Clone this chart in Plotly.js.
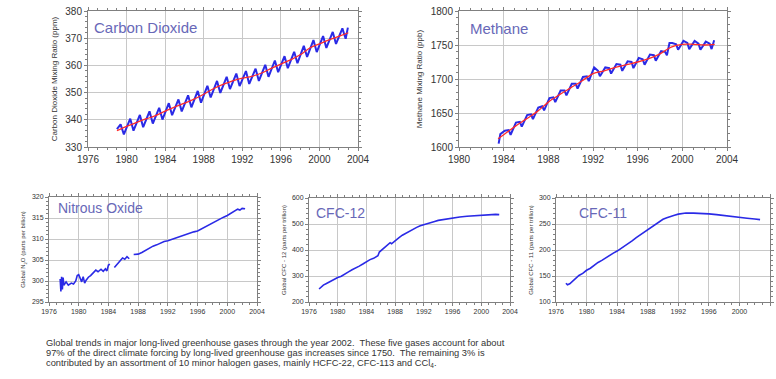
<!DOCTYPE html>
<html>
<head>
<meta charset="utf-8">
<script src="https://cdn.plot.ly/plotly-3.0.1.min.js"></script>
<style>html,body{margin:0;padding:0;background:#fff;}#chart{width:776px;height:379px;}</style>
</head>
<body>
<div id="chart"></div>
<script>
// ---------- Carbon dioxide (ppm) ----------
const co2Years = [1979.0,1979.38,1979.72,1980.38,1980.72,1981.38,1981.72,1982.38,1982.72,1983.38,1983.72,
  1984.38,1984.72,1985.38,1985.72,1986.38,1986.72,1987.38,1987.72,1988.38,1988.72,1989.38,1989.72,
  1990.38,1990.72,1991.38,1991.72,1992.38,1992.72,1993.38,1993.72,1994.38,1994.72,1995.38,1995.72,
  1996.38,1996.72,1997.38,1997.72,1998.38,1998.72,1999.38,1999.72,2000.38,2000.72,2001.38,2001.72,
  2002.38,2002.72,2002.95];
const co2Values = [336.6,338.3,334.6,340.4,336.0,341.8,337.3,343.1,338.6,344.4,340.1,
  346.1,341.7,347.5,343.1,349.0,344.6,350.6,346.3,352.5,348.2,354.3,349.9,
  355.8,351.3,357.0,352.4,357.9,353.2,358.8,354.3,360.2,355.8,361.8,357.5,
  363.4,359.0,365.0,360.8,367.2,363.1,369.3,364.9,370.8,366.4,372.3,367.9,
  373.6,369.8,373.9];
const co2TrendYears = [1979,1980,1981,1982,1983,1984,1985,1986,1987,1988,1989,1990,1991,
  1992,1993,1994,1995,1996,1997,1998,1999,2000,2001,2002,2003];
const co2TrendValues = [336.0,337.6,339.0,340.3,341.5,343.2,344.7,346.1,347.6,349.4,351.4,353.0,354.3,
  355.3,356.0,357.2,358.9,360.5,362.0,363.9,366.4,367.9,369.4,370.7,372.0];

// ---------- Methane (ppb) ----------
const ch4Years = [1983.55,1983.7,1984.1,1984.45,1984.62,1985.1,1985.45,1985.62,1986.1,1986.45,1986.62,
  1987.1,1987.45,1987.62,1988.1,1988.45,1988.62,1989.1,1989.45,1989.62,1990.1,1990.45,1990.62,
  1991.1,1991.45,1991.62,1992.1,1992.45,1992.62,1993.1,1993.45,1993.62,1994.1,1994.45,1994.62,
  1995.1,1995.45,1995.62,1996.1,1996.45,1996.62,1997.1,1997.45,1997.62,1998.1,1998.45,1998.62,
  1998.85,1999.1,1999.45,1999.62,2000.1,2000.45,2000.62,2001.1,2001.45,2001.62,2002.1,2002.45,
  2002.62,2002.85];
const ch4Values = [1605,1619,1624,1625,1618,1636,1637,1630,1647,1648,1641,
  1658,1660,1654,1672,1673,1666,1683,1683,1676,1693,1693,1686,
  1703,1704,1697,1717,1712,1704,1717,1716,1708,1722,1721,1712,
  1726,1725,1716,1731,1729,1721,1736,1735,1727,1741,1740,1735,
  1753,1753,1751,1743,1756,1753,1744,1756,1752,1743,1755,1752,
  1744,1757];
const ch4TrendYears = [1983.5,1984,1985,1986,1987,1988,1989,1990,1991,1992,1993,1994,1995,
  1996,1997,1998,1999,2000,2001,2002,2002.9];
const ch4TrendValues = [1612,1618,1630,1641,1652,1666,1677,1687,1697,1708,1712,1717,1721,
  1725,1730,1737,1747,1751,1751,1750,1751];

// ---------- Nitrous oxide (ppb); null = gap in record ----------
const n2oYears = [1977.5,1977.6,1977.7,1977.8,1977.9,1978.0,1978.3,1978.6,1979.0,1979.3,1979.6,1979.8,
  1980.0,1980.2,1980.4,1980.6,1980.8,1981.0,1981.3,1981.6,1982.0,1982.3,1982.6,1983.0,1983.3,1983.6,
  1983.8,1984.0,1984.2,1984.5,1984.8,1985.2,1985.6,1985.9,1986.2,1986.5,1986.8,1987.1,
  1987.4,1988.0,1988.5,1989.0,1989.5,1990.0,1990.5,1991.0,1991.5,1992.0,1992.5,1993.0,1993.5,
  1994.0,1994.5,1995.0,1995.5,1996.0,1996.5,1997.0,1997.5,1998.0,1998.5,1999.0,1999.5,2000.0,
  2000.5,2001.0,2001.4,2001.7,2002.0,2002.4];
const n2oValues = [300.5,297.5,301.0,298.0,300.8,299.0,299.8,299.0,299.5,299.3,300.0,301.3,
  301.5,300.8,299.8,301.0,299.5,300.2,300.9,301.3,302.0,302.6,302.2,302.8,302.3,302.9,
  302.4,303.8,304.0,null,303.2,304.0,304.8,305.5,305.2,305.8,305.3,null,
  306.3,306.4,306.8,307.3,307.9,308.3,308.6,309.0,309.4,309.6,309.9,310.2,310.6,
  310.9,311.2,311.5,311.7,311.9,312.4,312.8,313.3,313.8,314.3,314.8,315.2,315.6,
  316.2,316.6,317.1,316.9,317.3,317.2];

// ---------- CFC-12 (ppt) ----------
const cfc12Years = [1977.4,1977.7,1978.0,1978.5,1979.0,1979.5,1980.0,1980.5,1981.0,1981.5,1982.0,1982.5,
  1983.0,1983.5,1984.0,1984.5,1985.0,1985.4,1985.6,1985.8,1986.2,1986.6,1987.0,1987.3,1987.5,1988.0,
  1988.5,1989.0,1989.5,1990.0,1990.5,1991.0,1991.5,1992.0,1992.5,1993.0,1993.5,1994.0,1995.0,1996.0,
  1997.0,1998.0,1999.0,2000.0,2001.0,2002.0,2002.5];
const cfc12Values = [250,258,265,272,280,286,294,299,306,316,324,330,
  338,346,356,363,368,374,378,392,402,410,420,428,424,437,
  447,457,465,473,480,487,493,498,503,506,510,514,519,523,
  527,530,532,534,535,537,536];

// ---------- CFC-11 (ppt) ----------
const cfc11Years = [1977.3,1977.5,1977.8,1978.2,1978.6,1979.0,1979.5,1980.0,1980.5,1981.0,1981.5,1982.0,
  1982.5,1983.0,1983.5,1984.0,1984.5,1985.0,1985.5,1986.0,1986.5,1987.0,1987.5,1988.0,1988.5,1989.0,
  1989.5,1990.0,1990.5,1991.0,1991.5,1992.0,1992.5,1993.0,1994.0,1995.0,1996.0,1997.0,1998.0,1999.0,
  2000.0,2001.0,2002.0,2002.7];
const cfc11Values = [136,133,135,140,146,151,155,161,165,171,176,180,
  185,189,194,198,203,207,213,218,224,229,234,239,245,250,
  255,259,262,265,267,269,270.5,271,271,270.5,269.5,268,266,264,
  262.5,261,259.5,258.5];

const xTicks = [1976,1980,1984,1988,1992,1996,2000,2004];
const xTicksCH4 = [1980,1984,1988,1992,1996,2000,2004];

const captionLines = [
  'Global trends in major long-lived greenhouse gases through the year 2002.\u00a0 These five gases account for about',
  '97% of the direct climate forcing by long-lived greenhouse gas increases since 1750.\u00a0 The remaining 3% is',
  'contributed by an assortment of 10 minor halogen gases, mainly HCFC-22, CFC-113 and CCl<sub>4</sub>.'
];

// ---------- styling ----------
const W = 776, H = 379;
const px = v => v / W;
const py = v => 1 - v / H;
const BLUE = '#2a2ae6', RED = '#ff2a2a', TITLE = '#6868b8';
const gridC = '#c8c8c8', lineC = '#808080';

function xa(l, r, rng, ticks, fs, anchor) {
  return {domain:[px(l), px(r)], anchor:anchor, range:rng, tickvals:ticks, showgrid:true, gridcolor:gridC,
    zeroline:false, showline:true, linecolor:lineC, mirror:'ticks', ticks:'outside', ticklen:3, tickcolor:lineC,
    minor:{ticks:'outside', ticklen:2, dtick:1, tickcolor:lineC, showgrid:false},
    tickfont:{size:fs, color:'#333', family:'Liberation Sans, Arial, sans-serif'}, fixedrange:true};
}
function ya(t, b, rng, dt, minorDt, fs, anchor, title, tfs, standoff) {
  return {domain:[py(b), py(t)], anchor:anchor, range:rng, dtick:dt, showgrid:true, gridcolor:gridC,
    zeroline:false, showline:true, linecolor:lineC, mirror:'ticks', ticks:'outside', ticklen:3, tickcolor:lineC,
    minor:{ticks:'outside', ticklen:2, dtick:minorDt, tickcolor:lineC, showgrid:false},
    tickfont:{size:fs, color:'#333', family:'Liberation Sans, Arial, sans-serif'},
    title:{text:title, font:{size:tfs, color:'#333', family:'Liberation Sans, Arial, sans-serif'}, standoff:standoff},
    fixedrange:true};
}

const traces = [
  {x:co2Years, y:co2Values, xaxis:'x', yaxis:'y', mode:'lines', line:{color:BLUE, width:2}},
  {x:co2TrendYears, y:co2TrendValues, xaxis:'x', yaxis:'y', mode:'lines', line:{color:RED, width:1.3, shape:'spline'}},
  {x:ch4Years, y:ch4Values, xaxis:'x2', yaxis:'y2', mode:'lines', line:{color:BLUE, width:2}},
  {x:ch4TrendYears, y:ch4TrendValues, xaxis:'x2', yaxis:'y2', mode:'lines', line:{color:RED, width:1.3, shape:'spline'}},
  {x:n2oYears, y:n2oValues, xaxis:'x3', yaxis:'y3', mode:'lines', line:{color:BLUE, width:1.6}, connectgaps:false},
  {x:cfc12Years, y:cfc12Values, xaxis:'x4', yaxis:'y4', mode:'lines', line:{color:BLUE, width:1.6}},
  {x:cfc11Years, y:cfc11Values, xaxis:'x5', yaxis:'y5', mode:'lines', line:{color:BLUE, width:1.6}}
];

const ann = [];
function panelTitle(text, x, y, size) {
  ann.push({text:text, xref:'paper', yref:'paper', x:px(x), y:py(y), xanchor:'left', yanchor:'middle',
    showarrow:false, font:{size:size, color:TITLE, family:'Liberation Sans, Arial, sans-serif'}});
}
panelTitle('Carbon Dioxide', 92, 27, 15);
panelTitle('Methane', 468, 29, 15);
panelTitle('Nitrous Oxide', 56, 208, 14);
panelTitle('CFC-12', 314, 213, 14);
panelTitle('CFC-11', 577, 213, 14);
captionLines.forEach((t, i) => {
  ann.push({text:t, xref:'paper', yref:'paper', x:px(44), y:py(343 + 10 * i), xanchor:'left', yanchor:'middle',
    showarrow:false, align:'left', font:{size:9.3, color:'#333', family:'Liberation Sans, Arial, sans-serif'}});
});

const layout = {
  width:W, height:H, margin:{l:0, r:0, t:0, b:0}, paper_bgcolor:'#fff', plot_bgcolor:'#fff', showlegend:false,
  font:{family:'Liberation Sans, Arial, sans-serif', color:'#333'},
  xaxis: xa(88, 358, [1976, 2004], xTicks, 10, 'y'),
  yaxis: ya(11, 147, [330, 380], 10, 2, 10, 'x', 'Carbon Dioxide Mixing Ratio (ppm)', 8, 6),
  xaxis2: xa(459, 727, [1980, 2004], xTicksCH4, 10, 'y2'),
  yaxis2: ya(11, 147, [1600, 1800], 50, 10, 10, 'x2', 'Methane Mixing Ratio (ppb)', 8, 6),
  xaxis3: xa(49, 257, [1976, 2004], xTicks, 7, 'y3'),
  yaxis3: ya(197, 302, [295, 320], 5, 1, 7, 'x3', 'Global N<sub>2</sub>O (parts per billion)', 6, 5),
  xaxis4: xa(309, 510, [1976, 2004], xTicks, 7, 'y4'),
  yaxis4: ya(198, 302, [200, 600], 100, 20, 7, 'x4', 'Global CFC - 12 (parts per trillion)', 6, 4),
  xaxis5: xa(556, 770, [1976, 2004], xTicks, 7, 'y5'),
  yaxis5: ya(198, 302, [100, 300], 50, 10, 7, 'x5', 'Global CFC - 11 (parts per trillion)', 6, 4),
  annotations: ann
};

Plotly.newPlot('chart', traces, layout, {staticPlot:true, displayModeBar:false});
</script>
</body>
</html>
